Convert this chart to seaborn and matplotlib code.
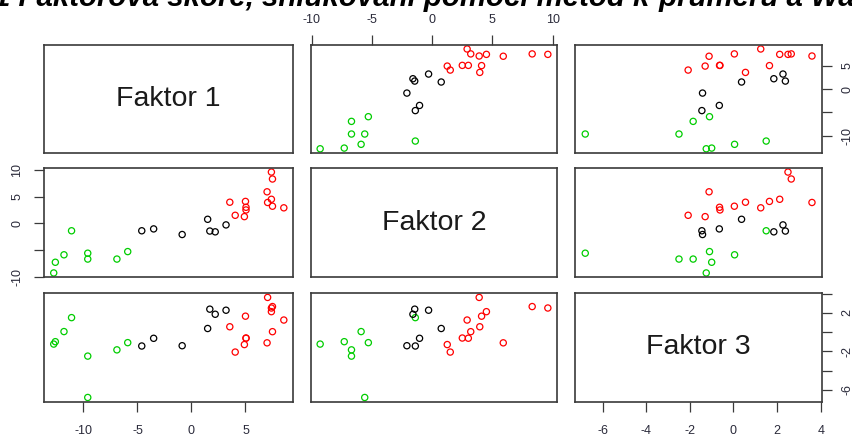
import matplotlib
matplotlib.use("Agg")
import matplotlib.pyplot as plt
import pandas as pd
import seaborn as sns

# ---------------- data ----------------
variables = ["Faktor 1", "Faktor 2", "Faktor 3"]
cluster = [3] * 8 + [1] * 7 + [2] * 13
faktor1 = [-12.75, -12.6, -11.8, -11.1, -9.6, -9.6, -6.9, -5.9,
           -4.6, -3.5, -0.86, 1.5, 1.7, 2.2, 3.2,
           3.55, 4.05, 5.0, 5.05, 5.05, 4.9, 7.0, 7.05, 7.4, 7.5, 7.4, 7.5, 8.55]
faktor2 = [-9.3, -7.3, -5.9, -1.4, -5.6, -6.7, -6.7, -5.3,
           -1.4, -1.05, -2.1, 0.75, -1.45, -1.6, -0.3,
           3.95, 1.5, 4.1, 3.0, 2.5, 1.25, 5.9, 3.9, 9.6, 8.3, 4.5, 3.2, 2.9]
faktor3 = [-1.25, -1.0, 0.05, 1.5, -6.8, -2.5, -1.85, -1.1,
           -1.45, -0.65, -1.42, 0.37, 2.38, 1.85, 2.27,
           0.55, -2.08, 1.65, -0.64, -0.62, -1.3, -1.12, 3.6, 2.5, 2.65, 2.12, 0.04, 1.25]
cluster_colors = {1: "#000000", 2: "#FF0000", 3: "#00CD00"}
title_text = "1 Faktorová skóre, shlukování pomocí metod k-průměrů a Wardovy metody"

f1_ticks = [-10, -5, 0, 5]
f1_right_labels = ["-10", "", "0", "5"]
f2_ticks = [-10, -5, 0, 5, 10]
f2_left_labels = ["-10", "", "0", "5", "10"]
f3_ticks = [-6, -4, -2, 0, 2, 4]
f3_right_labels = ["-6", "", "-2", "", "2", ""]

df = pd.DataFrame({"Faktor 1": faktor1, "Faktor 2": faktor2,
                   "Faktor 3": faktor3, "cluster": cluster})

# ---------------- style ----------------
plt.rcParams["font.family"] = ["Liberation Sans", "DejaVu Sans"]
W, H = 853, 437
fig = plt.figure(figsize=(W / 100, H / 100), dpi=100)

col_px = [(44, 293), (311, 557), (575, 822)]
row_px = [(45, 153), (168, 277), (293, 402)]
lims = [(-13.65, 9.40), (-10.06, 10.36), (-7.27, 4.06)]

edge = "#3a3a3a"
tick_kw = dict(direction="out", length=7, width=0.9, color=edge,
               labelsize=9, labelcolor="#2a2a3a")

axes = {}
for i in range(3):
    for j in range(3):
        x0, x1 = col_px[j]
        y0, y1 = row_px[i]
        ax = fig.add_axes([x0 / W, 1 - y1 / H, (x1 - x0) / W, (y1 - y0) / H])
        axes[(i, j)] = ax
        if i == j:
            ax.text(0.5, 0.5, variables[i], transform=ax.transAxes,
                    ha="center", va="center", fontsize=20.5, color="#1a1a1a")
        else:
            sns.scatterplot(data=df, x=variables[j], y=variables[i],
                            hue="cluster", palette=cluster_colors,
                            s=20, linewidth=0.9, legend=False, ax=ax)
            for coll in ax.collections:
                fc = coll.get_facecolors()
                coll.set_edgecolors(fc)
                coll.set_facecolors("none")
        ax.set_xlim(lims[j])
        ax.set_ylim(lims[i])
        ax.set_xlabel("")
        ax.set_ylabel("")
        ax.set_xticks([])
        ax.set_yticks([])
        for sp in ax.spines.values():
            sp.set_color(edge)
            sp.set_linewidth(1.2)
        ax.set_facecolor("white")

# column 1 bottom
ax = axes[(2, 0)]
ax.set_xticks(f1_ticks)
ax.set_xticklabels([str(t) for t in f1_ticks])
ax.tick_params(axis="x", bottom=True, labelbottom=True, pad=9.5, **tick_kw)

# column 2 top
ax = axes[(0, 1)]
ax.xaxis.tick_top()
ax.set_xticks(f2_ticks)
ax.set_xticklabels([str(t) for t in f2_ticks])
ax.tick_params(axis="x", top=True, labeltop=True, bottom=False,
               labelbottom=False, pad=7, **tick_kw)

# column 3 bottom
ax = axes[(2, 2)]
ax.set_xticks(f3_ticks)
ax.set_xticklabels([str(t) for t in f3_ticks])
ax.tick_params(axis="x", bottom=True, labelbottom=True, pad=9.5, **tick_kw)

# row 2 left
ax = axes[(1, 0)]
ax.set_yticks(f2_ticks)
ax.set_yticklabels(f2_left_labels, rotation=90, va="center")
ax.tick_params(axis="y", left=True, labelleft=True, pad=8, **tick_kw)

# row 1 right
ax = axes[(0, 2)]
ax.yaxis.tick_right()
ax.set_yticks(f1_ticks)
ax.set_yticklabels(f1_right_labels, rotation=90, va="center")
ax.tick_params(axis="y", right=True, labelright=True, left=False,
               labelleft=False, pad=7, **tick_kw)

# row 3 right
ax = axes[(2, 2)]
ax.yaxis.tick_right()
ax.set_yticks(f3_ticks)
ax.set_yticklabels(f3_right_labels, rotation=90, va="center")
ax.tick_params(axis="y", right=True, labelright=True, left=False,
               labelleft=False, pad=7, **tick_kw)

fig.text(-6 / W, 1 - 6.5 / H, title_text, ha="left", va="baseline",
         fontsize=21.2, fontweight="bold", style="italic", color="black")

fig.savefig("out.png", dpi=100, facecolor="white")
